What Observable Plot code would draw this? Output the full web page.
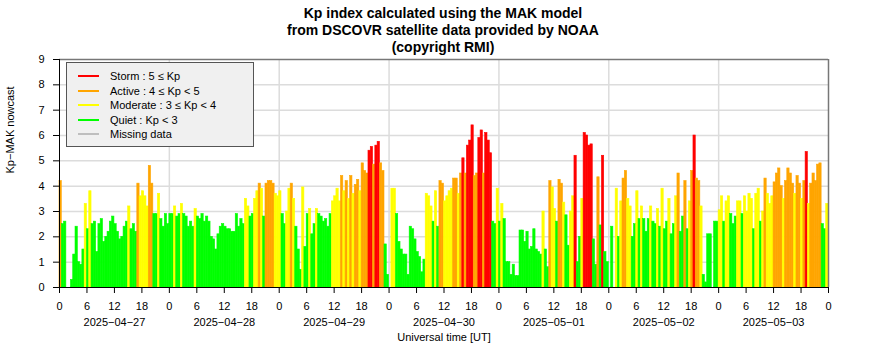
<!DOCTYPE html>
<html>
<head>
<meta charset="utf-8">
<script src="https://cdn.jsdelivr.net/npm/d3@7"></script>
<script src="https://cdn.jsdelivr.net/npm/@observablehq/plot@0.6"></script>
<style>
  html, body { margin: 0; padding: 0; background: #fff; }
  #wrap { position: relative; width: 886px; height: 360px; font-family: "Liberation Sans", Arial, sans-serif; }
  #title { height: 53px; overflow: visible; box-sizing: border-box; padding-top: 5px; text-align: center; font-weight: bold; font-size: 14px; line-height: 17px; color: #000; }
  #legend { position: absolute; left: 66px; top: 62px; width: 188px; height: 85px; background: #f0f0f0; border: 1px solid #555; box-sizing: border-box; font-size: 11px; color: #000; }
  .row { position: absolute; left: 0; height: 14px; line-height: 14px; }
  .sw { position: absolute; left: 11px; top: 6px; width: 21px; height: 2px; }
  .lb { position: absolute; left: 43px; top: 0; white-space: nowrap; }
</style>
</head>
<body>
<div id="wrap">
  <div id="title">Kp index calculated using the MAK model<br>from DSCOVR satellite data provided by NOAA<br>(copyright RMI)</div>
  <div id="chart"></div>
  <div id="legend"></div>
</div>
<script>
// Dates (one per day, 30-minute slots)
const days = ["2025\u221204\u221227", "2025\u221204\u221228", "2025\u221204\u221229", "2025\u221204\u221230", "2025\u221205\u221201", "2025\u221205\u221202", "2025\u221205\u221203"];

// Kp-MAK nowcast, half-hour slots, null = no data
const kp0427 = [4.2, 2.5, 2.6, null, null, 0.3, 1.3, 2.4, 1.0, 0.9, 1.5, 3.3, 2.3, 3.8, 2.5, 2.6, 1.4, 2.5, 2.7, 1.8, 2.0, 2.2, 2.6, 2.8, 2.5, 2.2, 1.9, 2.0, 2.4, 2.6, 3.2, 2.3, 2.5, 2.2, 4.1, 3.6, 3.8, 3.6, 3.2, 4.8, 4.1, 2.9, 2.9, 3.7, 2.7, 2.4, 2.9, 2.5];
const kp0428 = [2.9, 2.9, 3.2, 2.8, 2.9, 3.3, 2.9, 2.8, 2.4, 2.6, 2.4, 3.1, 2.8, 2.7, 2.9, 2.6, 2.8, 2.6, 2.0, 1.9, 1.5, 2.1, 2.4, 2.5, 2.4, 2.3, 2.3, 2.2, 2.2, 2.9, 2.4, 2.7, 2.5, 3.5, 3.2, 2.8, 2.9, 3.5, 3.8, 4.1, 3.9, 2.8, 4.1, 4.2, 4.2, 4.1, 3.7, 3.6];
const kp0429 = [3.8, 2.9, 2.5, 3.0, 3.9, 4.1, 3.5, 2.4, 1.5, 0.7, 3.95, 1.6, 2.9, 3.1, 2.1, 2.5, 3.1, 2.9, 2.8, 2.6, 2.7, 2.4, 2.9, 3.4, 3.6, 3.9, 3.4, 4.4, 3.8, 4.2, 3.5, 4.4, 3.7, 4.05, 4.25, 3.8, 4.9, 4.6, 4.5, 5.4, 5.55, 4.85, 5.6, 5.75, 4.9, 4.6, 1.7, 0.5];
const kp0430 = [null, 3.9, 3.9, 2.9, 1.8, 1.5, 1.3, 1.3, 0.5, 2.4, 2.3, 1.9, 1.4, 1.2, 0.6, 1.1, 3.7, 3.6, 3.2, 2.6, 3.8, 2.4, 4.2, 4.1, 3.4, 3.6, 3.8, 3.9, 4.3, 4.3, 3.7, 4.5, 5.1, 4.5, 5.6, 5.8, 6.4, 4.4, 4.5, 5.9, 6.2, 4.5, 6.1, 5.8, 5.3, 2.6, 2.5, 3.9];
const kp0501 = [2.6, 3.3, 2.7, 1.0, 1.0, 0.5, 0.9, 0.45, 0.45, 2.25, 2.25, 1.8, 2.2, 1.5, 1.6, 2.3, 1.5, 1.4, 1.3, 3.0, 1.5, 0.8, 4.2, 3.95, 3.1, 2.6, 4.25, 4.1, 3.35, 2.85, 1.65, 3.0, 3.6, 5.2, 1.0, 2.0, 3.5, 6.1, 6.0, 5.6, 5.65, 1.9, 0.9, 4.35, 2.45, 5.2, 1.4, 1.0];
const kp0502 = [null, 2.4, null, 3.9, 2.0, 3.4, 4.3, 4.6, 3.5, 3.2, 2.0, 2.5, 3.8, 2.7, 3.2, 2.7, 2.2, 2.7, 3.2, 2.6, 2.5, 3.1, 2.4, 3.9, 2.3, 2.6, 3.5, 2.1, 2.5, 3.6, 4.5, 2.2, 2.8, 4.2, 2.3, 3.4, 4.6, 6.0, 4.3, 4.2, 3.2, 0.5, 0.2, 2.1, 2.1, null, 2.6, 2.6];
const kp0503 = [3.05, 3.6, 2.6, 3.4, 3.6, 2.9, 2.5, 2.8, 3.4, 3.4, 2.9, 3.6, 3.0, 3.7, 3.5, 2.3, 3.7, 3.9, 2.6, 3.0, 4.3, 3.7, 3.3, 3.6, 4.15, 4.5, 4.7, 4.0, 3.5, 4.2, 4.7, 4.5, 4.1, 3.7, 4.4, 4.1, 3.5, 4.2, 5.35, 3.3, 4.1, 4.5, 4.2, 4.85, 4.9, 2.5, 2.3, 3.3];

const levelNames = ["Storm", "Active", "Moderate", "Quiet", "Missing"];
const levelColors = ["#ff0000", "#ffa500", "#ffff00", "#00ff00", "#bebebe"];
const legendLabels = ["Storm : 5 \u2264 Kp", "Active : 4 \u2264 Kp < 5", "Moderate : 3 \u2264 Kp < 4", "Quiet : Kp < 3", "Missing data"];

const series = [kp0427, kp0428, kp0429, kp0430, kp0501, kp0502, kp0503];
const rows = [];
series.forEach((vals, d) => vals.forEach((v, i) => {
  if (v != null) rows.push({t: d * 24 + i * 0.5, kp: v});
}));
const level = v => v >= 5 ? "Storm" : v >= 4 ? "Active" : v >= 3 ? "Moderate" : "Quiet";

const chart = Plot.plot({
  width: 886,
  height: 307,
  marginTop: 6,
  marginBottom: 73,
  marginLeft: 59,
  marginRight: 58,
  style: {fontFamily: "'Liberation Sans', Arial, sans-serif", fontSize: "11px", color: "#000", background: "#fff", overflow: "visible"},
  x: {domain: [0, 168]},
  y: {domain: [0, 9]},
  color: {domain: levelNames, range: levelColors},
  marks: [
    Plot.gridY(d3.range(1, 9), {stroke: "#dcdcdc", strokeOpacity: 1, strokeWidth: 1.5}),
    Plot.gridX(d3.range(24, 168, 24), {stroke: "#dcdcdc", strokeOpacity: 1, strokeWidth: 1.5}),
    Plot.rectY(rows, {x1: "t", x2: d => d.t + 0.5, y: "kp", fill: d => level(d.kp), stroke: d => level(d.kp), strokeWidth: 0.6, inset: 0}),
    Plot.ruleY([9], {stroke: "#777", strokeWidth: 1.5}),
    Plot.ruleX([168], {stroke: "#777", strokeWidth: 1.5}),
    Plot.ruleX([0], {stroke: "#000", strokeWidth: 1}),
    Plot.ruleY([0], {stroke: "#000", strokeWidth: 1}),
    Plot.axisY({ticks: d3.range(0, 10), tickSize: 6, tickPadding: 9, tickFormat: d => String(d), label: null}),
    Plot.axisX({ticks: d3.range(0, 169, 6), tickFormat: d => String(d % 24), tickSize: 6, tickPadding: 9, label: null}),
    Plot.axisX({ticks: d3.range(12, 168, 24), tickFormat: d => days[Math.floor(d / 24)], tickSize: 0, tickPadding: 31, label: null}),
    Plot.text(["Universal time [UT]"], {frameAnchor: "bottom", dy: 53, fontSize: 11}),
    Plot.text(["Kp\u2212MAK nowcast"], {frameAnchor: "left", dx: -49, rotate: -90, fontSize: 11})
  ]
});
document.getElementById("chart").appendChild(chart);

const leg = document.getElementById("legend");
legendLabels.forEach((lab, k) => {
  const r = document.createElement("div");
  r.className = "row";
  r.style.top = (6 + k * 14.5) + "px";
  r.style.width = "100%";
  const sw = document.createElement("div");
  sw.className = "sw";
  sw.style.background = levelColors[k];
  const t = document.createElement("div");
  t.className = "lb";
  t.textContent = lab;
  r.appendChild(sw); r.appendChild(t);
  leg.appendChild(r);
});
</script>
</body>
</html>
